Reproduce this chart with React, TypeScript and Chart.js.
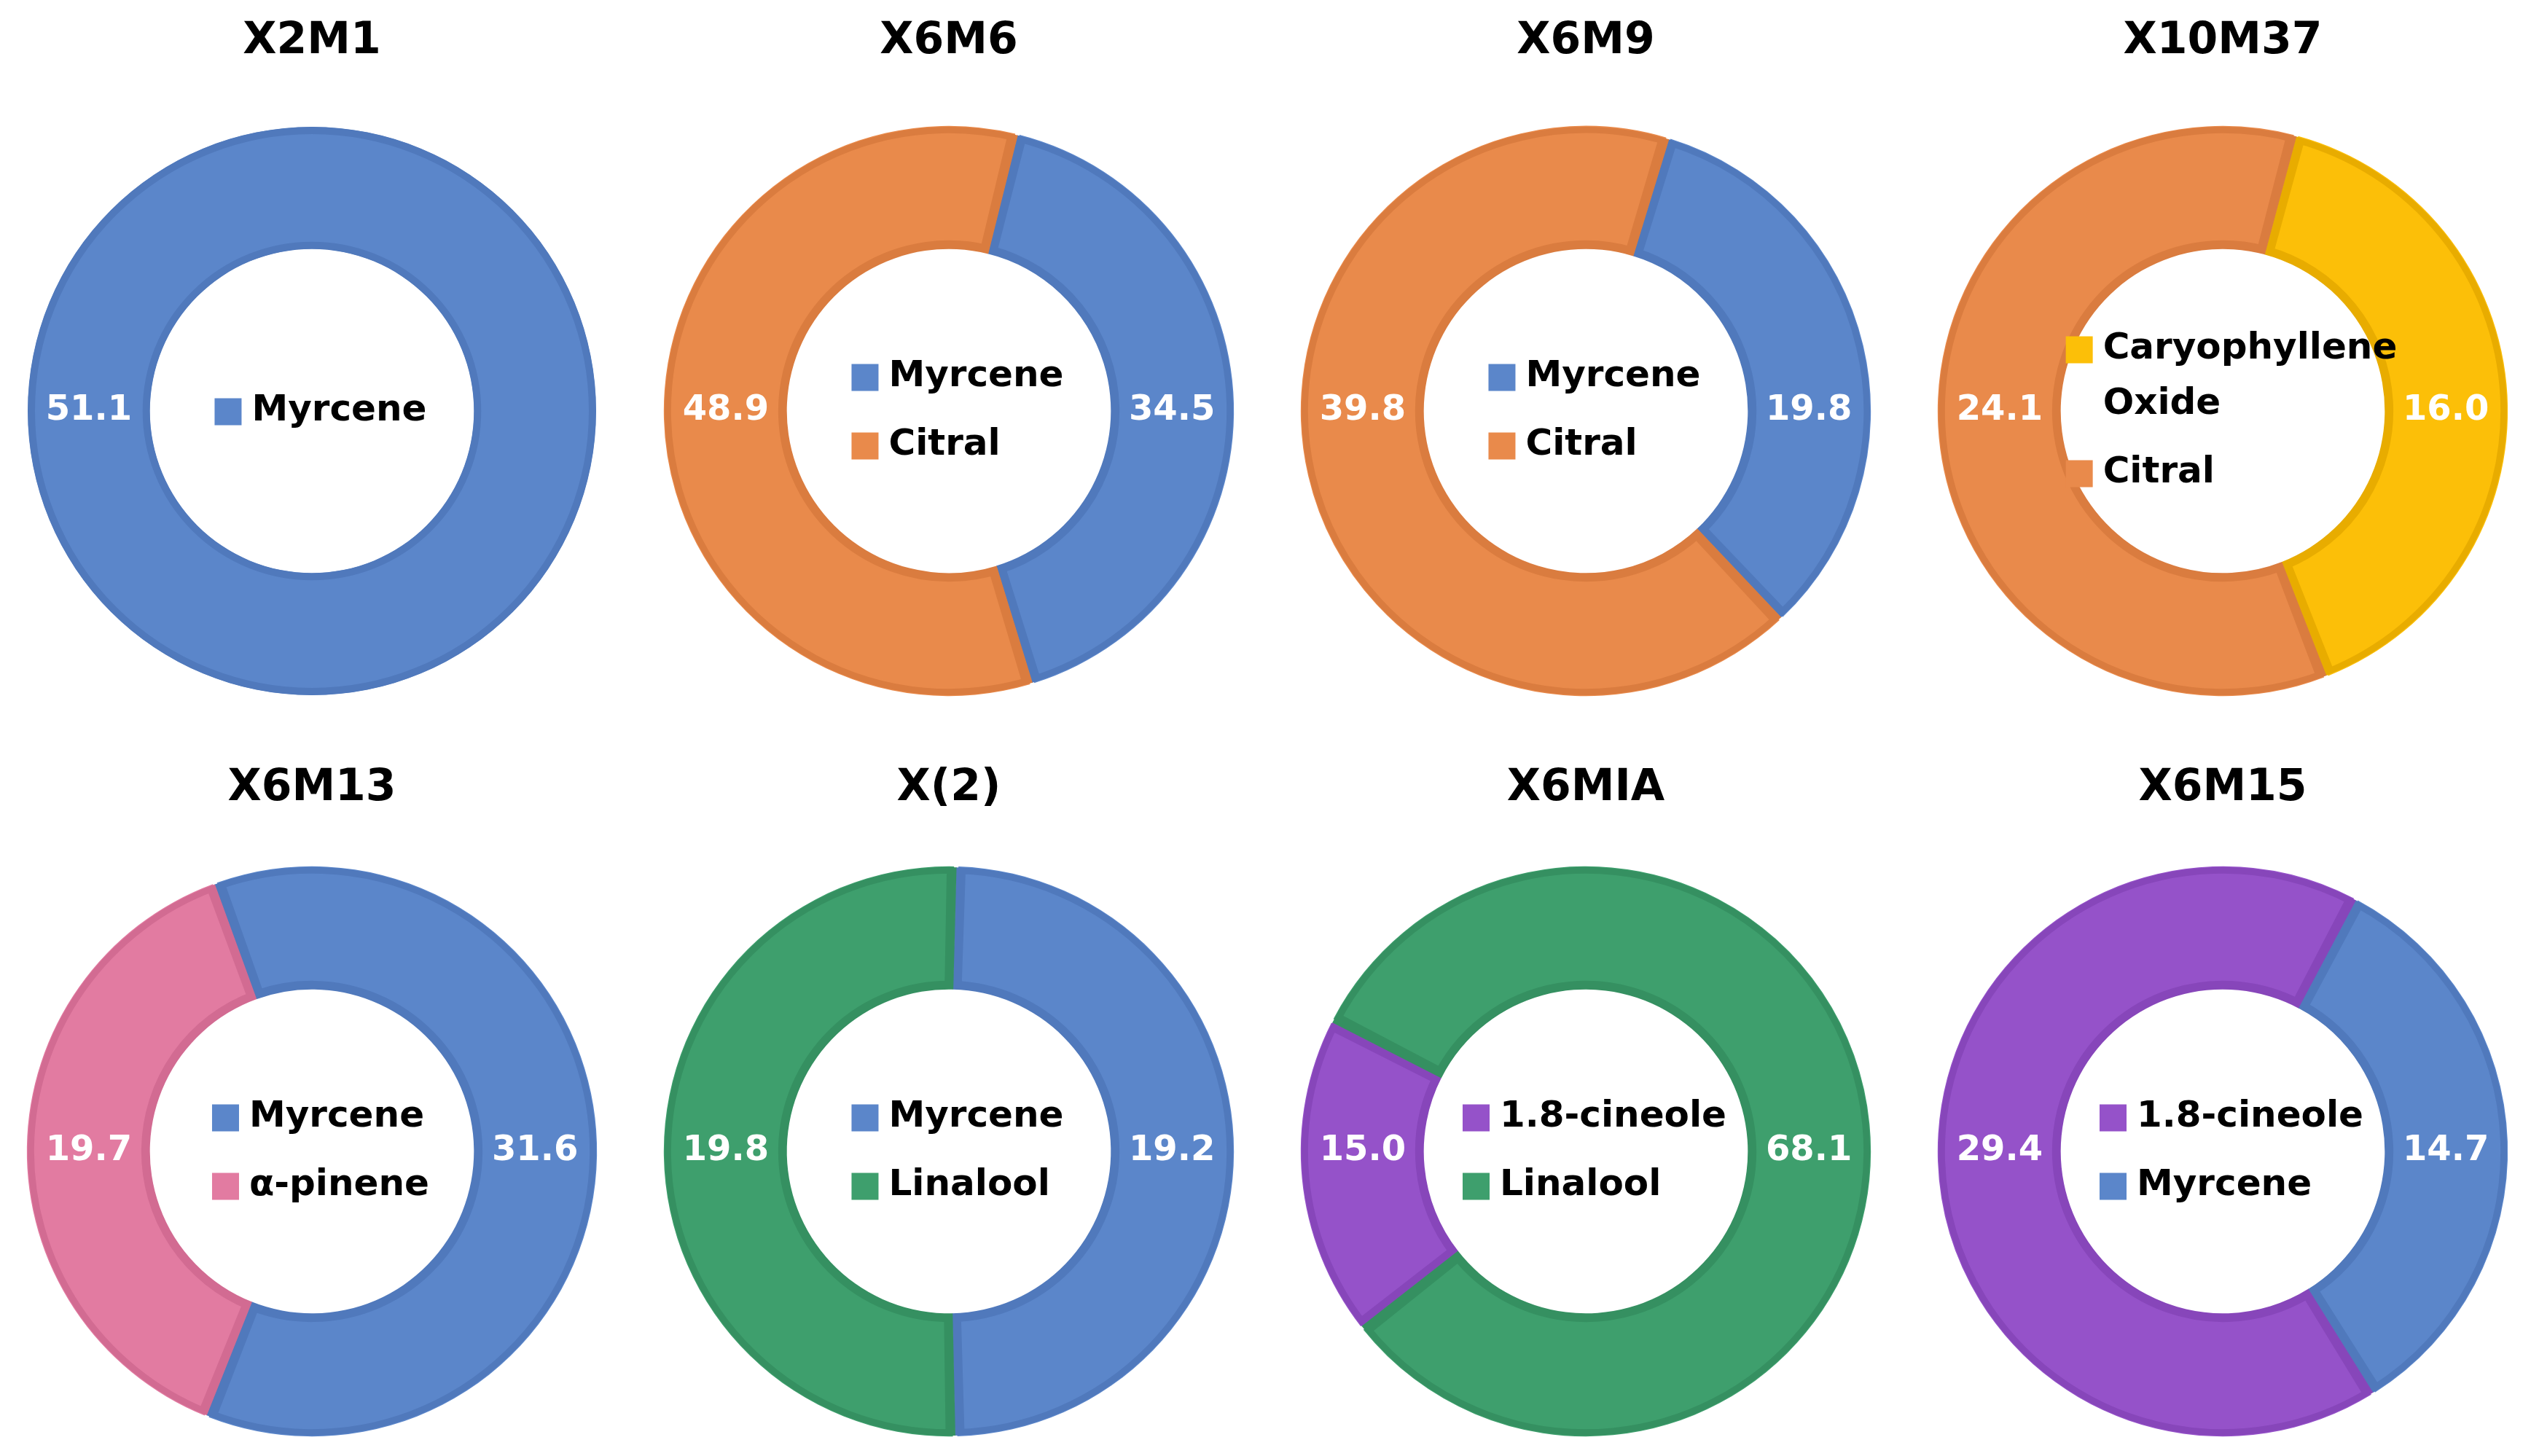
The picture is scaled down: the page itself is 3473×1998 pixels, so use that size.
import React, { useEffect, useRef } from 'react';
import { Chart, registerables } from 'chart.js';

Chart.register(...registerables);

const FONT = "'DejaVu Sans', Verdana, sans-serif";

// ---- data ----
const chartTitles = ['X2M1', 'X6M6', 'X6M9', 'X10M37', 'X6M13', 'X(2)', 'X6MIA', 'X6M15'];

const x2m1Compounds = ['Myrcene'];
const x2m1Values = [51.1];
const x6m6Compounds = ['Myrcene', 'Citral'];
const x6m6Values = [34.5, 48.9];
const x6m9Compounds = ['Myrcene', 'Citral'];
const x6m9Values = [19.8, 39.8];
const x10m37Compounds = ['Caryophyllene Oxide', 'Citral'];
const x10m37Values = [16.0, 24.1];
const x6m13Compounds = ['Myrcene', 'α-pinene'];
const x6m13Values = [31.6, 19.7];
const x2Compounds = ['Myrcene', 'Linalool'];
const x2Values = [19.2, 19.8];
const x6miaCompounds = ['1.8-cineole', 'Linalool'];
const x6miaValues = [15.0, 68.1];
const x6m15Compounds = ['1.8-cineole', 'Myrcene'];
const x6m15Values = [29.4, 14.7];

const compoundsList = [x2m1Compounds, x6m6Compounds, x6m9Compounds, x10m37Compounds, x6m13Compounds, x2Compounds, x6miaCompounds, x6m15Compounds];
const valuesList = [x2m1Values, x6m6Values, x6m9Values, x10m37Values, x6m13Values, x2Values, x6miaValues, x6m15Values];

// angle (deg, clockwise from 12 o'clock) where the first slice starts
const firstSliceAngles = [90, 14, 17, 15, 340, 1.5, 232, 148];

// ---- styles ----
const compoundFill: Record<string, string> = {
  'Myrcene': '#5B86CA',
  'Citral': '#E98A4B',
  'Caryophyllene Oxide': '#FCBF08',
  'α-pinene': '#E27BA1',
  'Linalool': '#3E9F6D',
  '1.8-cineole': '#9552C9',
};
const compoundEdge: Record<string, string> = {
  'Myrcene': '#5079BC',
  'Citral': '#DA7C3F',
  'Caryophyllene Oxide': '#E8AC00',
  'α-pinene': '#D26B92',
  'Linalool': '#359061',
  '1.8-cineole': '#8746BA',
};

const EDGE_W = 10;
const columnCenters = [428, 1302, 2176, 3050];
const CANVAS_W = 840;

function wrapText(ctx: CanvasRenderingContext2D, text: string, maxW: number): string[] {
  const words = text.split(' ');
  const lines: string[] = [];
  let cur = '';
  for (const w of words) {
    const test = cur ? cur + ' ' + w : w;
    if (cur && ctx.measureText(test).width > maxW) {
      lines.push(cur);
      cur = w;
    } else {
      cur = test;
    }
  }
  if (cur) lines.push(cur);
  return lines;
}

// darker edge band for a single full-circle slice (no seam)
const fullRingEdge = {
  id: 'fullRingEdge',
  afterDatasetsDraw(chart: any) {
    const meta = chart.getDatasetMeta(0);
    if (meta.data.length !== 1) return;
    const ctx = chart.ctx as CanvasRenderingContext2D;
    const label = chart.data.labels[0];
    const p = meta.data[0].getProps(['innerRadius', 'outerRadius', 'x', 'y'], true);
    ctx.save();
    ctx.beginPath();
    ctx.arc(p.x, p.y, p.outerRadius, 0, Math.PI * 2);
    ctx.arc(p.x, p.y, p.innerRadius, 0, Math.PI * 2, true);
    ctx.clip();
    ctx.strokeStyle = compoundEdge[label];
    ctx.lineWidth = EDGE_W * 2;
    ctx.beginPath();
    ctx.arc(p.x, p.y, p.outerRadius, 0, Math.PI * 2);
    ctx.stroke();
    ctx.beginPath();
    ctx.arc(p.x, p.y, p.innerRadius, 0, Math.PI * 2);
    ctx.stroke();
    ctx.restore();
  },
};

const valueLabels = {
  id: 'valueLabels',
  afterDatasetsDraw(chart: any) {
    const ctx = chart.ctx as CanvasRenderingContext2D;
    const meta = chart.getDatasetMeta(0);
    const ds = chart.data.datasets[0];
    ctx.save();
    ctx.font = `bold 48px ${FONT}`;
    ctx.fillStyle = '#FFFFFF';
    ctx.textAlign = 'center';
    ctx.textBaseline = 'middle';
    meta.data.forEach((arc: any, i: number) => {
      const p = arc.getProps(['startAngle', 'endAngle', 'innerRadius', 'outerRadius', 'x', 'y'], true);
      const s = (p.startAngle * 180) / Math.PI + 90;
      const e = (p.endAngle * 180) / Math.PI + 90;
      const contains = (a: number) => [-360, 0, 360, 720].some((k) => a + k >= s && a + k <= e);
      const r = (p.innerRadius + p.outerRadius) / 2;
      let px: number;
      let py = p.y;
      if (contains(270)) px = p.x - r;
      else if (contains(90)) px = p.x + r;
      else {
        const mid = (p.startAngle + p.endAngle) / 2;
        px = p.x + Math.cos(mid) * r;
        py = p.y + Math.sin(mid) * r;
      }
      ctx.fillText(Number(ds.data[i]).toFixed(1), px, py);
    });
    ctx.restore();
  },
};

const centerLegend = {
  id: 'centerLegend',
  afterDraw(chart: any) {
    const ctx = chart.ctx as CanvasRenderingContext2D;
    const meta = chart.getDatasetMeta(0);
    const arc = meta.data[0];
    if (!arc) return;
    const cx = arc.x;
    const cy = arc.y;
    const colors = chart.data.datasets[0].backgroundColor as string[];
    ctx.save();
    ctx.font = `bold 50px ${FONT}`;
    const items = (chart.data.labels as string[]).map((lab, i) => ({
      lines: wrapText(ctx, lab, 430),
      color: colors[i],
    }));
    const lineH = 76;
    const gap = 18;
    const box = 37;
    const boxGap = 14;
    let textW = 0;
    items.forEach((it) => it.lines.forEach((ln) => (textW = Math.max(textW, ctx.measureText(ln).width))));
    const total = items.reduce((sum, it) => sum + it.lines.length * lineH, 0) + gap * (items.length - 1);
    const left = cx - (box + boxGap + textW) / 2 + 12;
    let y = cy - total / 2;
    ctx.textAlign = 'left';
    ctx.textBaseline = 'middle';
    items.forEach((it) => {
      const first = y + lineH / 2;
      ctx.fillStyle = it.color;
      ctx.fillRect(left, first - box / 2 + 1, box, box);
      ctx.fillStyle = '#000000';
      it.lines.forEach((ln, j) => ctx.fillText(ln, left + box + boxGap, y + j * lineH + lineH / 2));
      y += it.lines.length * lineH + gap;
    });
    ctx.restore();
  },
};

interface DonutProps {
  index: number;
}

function Donut({ index }: DonutProps) {
  const ref = useRef<HTMLCanvasElement>(null);
  const row = Math.floor(index / 4);
  const col = index % 4;
  const top = row === 0 ? 0 : 1000;
  const height = row === 0 ? 1000 : 998;
  const left = columnCenters[col] - CANVAS_W / 2;

  useEffect(() => {
    const labels = compoundsList[index];
    const values = valuesList[index];
    const single = values.length === 1;
    const chart = new Chart(ref.current as HTMLCanvasElement, {
      type: 'doughnut',
      data: {
        labels,
        datasets: [
          {
            data: values,
            backgroundColor: labels.map((l) => compoundFill[l]),
            borderColor: labels.map((l) => compoundEdge[l]),
            borderWidth: single ? 0 : EDGE_W,
            borderAlign: 'inner',
            spacing: single ? 0 : 3,
            hoverOffset: 0,
          } as any,
        ],
      },
      options: {
        responsive: false,
        animation: false,
        events: [],
        rotation: firstSliceAngles[index],
        cutout: '57%',
        radius: 390,
        layout: { padding: { top: 0, left: 0, right: 0, bottom: row === 0 ? 46 : 28 } },
        plugins: {
          legend: { display: false },
          tooltip: { enabled: false },
          title: {
            display: true,
            text: chartTitles[index],
            color: '#000000',
            font: { family: FONT, size: 60, weight: 'bold', lineHeight: 1.2 },
            padding: row === 0 ? { top: 21, bottom: 81 } : { top: 46, bottom: 72 },
          },
        },
      } as any,
      plugins: [fullRingEdge, valueLabels, centerLegend],
    });
    return () => chart.destroy();
  }, [index]);

  return (
    <canvas
      ref={ref}
      width={CANVAS_W}
      height={height}
      style={{ position: 'absolute', left, top, width: CANVAS_W, height }}
    />
  );
}

export default function App() {
  return (
    <div
      style={{
        position: 'absolute',
        left: 0,
        top: 0,
        width: 3473,
        height: 1998,
        overflow: 'hidden',
        background: '#FFFFFF',
      }}
    >
      {chartTitles.map((_, i) => (
        <Donut key={i} index={i} />
      ))}
    </div>
  );
}
